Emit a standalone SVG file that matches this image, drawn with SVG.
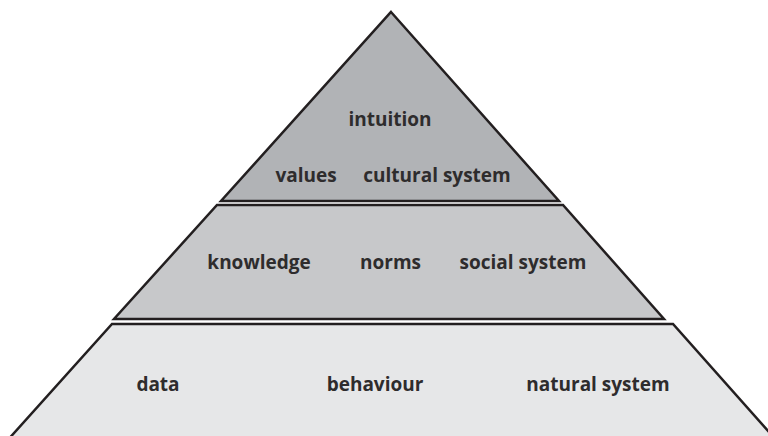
<svg xmlns="http://www.w3.org/2000/svg" width="768" height="436" viewBox="0 0 768 436">
<style>
.tier{stroke:#231f20;stroke-width:2.5;stroke-linejoin:miter}
.lbl{font-family:"Open Sans","Liberation Sans",sans-serif;font-weight:700;font-size:19px;fill:#2e2c2d;text-anchor:middle}
</style>
<rect width="768" height="436" fill="#ffffff"/>
<g id="top">
<polygon class="tier" fill="#b1b3b6" points="391,12 559,201 221,201"/>
<text class="lbl" x="390" y="126">intuition</text>
<text class="lbl" x="306" y="182">values</text>
<text class="lbl" x="437" y="182">cultural system</text>
</g>
<g id="middle">
<polygon class="tier" fill="#c7c8ca" points="217,205 563,205 664,319 114,319"/>
<text class="lbl" x="259" y="269">knowledge</text>
<text class="lbl" x="390.5" y="269">norms</text>
<text class="lbl" x="523" y="269">social system</text>
</g>
<g id="bottom">
<polygon class="tier" fill="#e6e7e8" points="112,324 673,324 778,442 6,442"/>
<text class="lbl" x="158" y="391">data</text>
<text class="lbl" x="375" y="391">behaviour</text>
<text class="lbl" x="598" y="391">natural system</text>
</g>
<g id="connectors"></g>
</svg>
